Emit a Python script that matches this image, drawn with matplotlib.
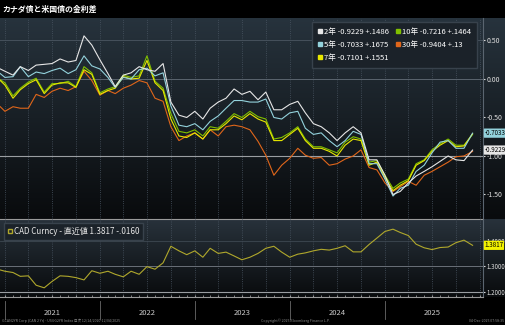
import numpy as np
import pandas as pd
import matplotlib
matplotlib.use("Agg")
import matplotlib.pyplot as plt
import matplotlib.dates as mdates
from matplotlib.lines import Line2D
from matplotlib.colors import LinearSegmentedColormap

plt.rcParams["font.family"] = ["Liberation Sans Narrow", "Noto Sans CJK JP", "DejaVu Sans"]

# first print, month starts, last print
dates = (pd.DatetimeIndex([pd.Timestamp("2020-12-14")])
         .append(pd.date_range("2021-01-01", "2025-11-01", freq="MS"))
         .append(pd.DatetimeIndex([pd.Timestamp("2025-12-04")])))

spread_2y = [0.13, 0.10, 0.05, 0.16, 0.11, 0.18, 0.19, 0.20, 0.26, 0.22, 0.24, 0.56, 0.44,
             0.25, 0.07, -0.10, 0.05, 0.08, 0.16, 0.12, 0.10, 0.20, -0.30, -0.47, -0.50,
             -0.42, -0.52, -0.38, -0.30, -0.25, -0.13, -0.20, -0.16, -0.27, -0.17, -0.40, -0.40,
             -0.33, -0.29, -0.44, -0.58, -0.62, -0.70, -0.80, -0.70, -0.62, -0.70, -1.05, -1.05,
             -1.25, -1.50, -1.46, -1.35, -1.26, -1.20, -1.14, -1.07, -1.00, -1.05, -1.06, -0.9229]
spread_5y = [0.07, 0.02, 0.03, 0.16, 0.03, 0.09, 0.07, 0.11, 0.14, 0.07, 0.12, 0.30, 0.17,
             0.13, 0.02, -0.11, 0.02, 0.00, 0.12, 0.14, 0.04, 0.08, -0.35, -0.60, -0.62,
             -0.58, -0.66, -0.55, -0.48, -0.38, -0.28, -0.28, -0.30, -0.30, -0.26, -0.50, -0.52,
             -0.44, -0.42, -0.64, -0.72, -0.70, -0.80, -0.88, -0.80, -0.68, -0.72, -1.10, -1.10,
             -1.30, -1.52, -1.42, -1.38, -1.20, -1.12, -0.96, -0.82, -0.80, -0.90, -0.90, -0.7033]
spread_7y = [-0.02, -0.08, -0.25, -0.14, -0.06, -0.01, -0.19, -0.08, -0.05, -0.05, -0.11, 0.12, 0.06,
             -0.20, -0.15, -0.12, 0.03, 0.00, 0.01, 0.24, -0.05, -0.15, -0.52, -0.74, -0.76,
             -0.70, -0.78, -0.66, -0.66, -0.58, -0.48, -0.53, -0.45, -0.52, -0.56, -0.80, -0.80,
             -0.72, -0.64, -0.80, -0.90, -0.90, -0.94, -1.00, -0.86, -0.78, -0.80, -1.12, -1.08,
             -1.28, -1.45, -1.38, -1.32, -1.12, -1.06, -0.94, -0.86, -0.80, -0.88, -0.87, -0.7101]
spread_10y = [-0.01, -0.05, -0.22, -0.12, -0.04, 0.01, -0.17, -0.06, -0.06, -0.03, -0.10, 0.16, 0.08,
              -0.18, -0.13, -0.10, 0.05, 0.02, 0.04, 0.30, -0.03, -0.12, -0.45, -0.68, -0.70,
              -0.66, -0.74, -0.62, -0.64, -0.55, -0.45, -0.50, -0.42, -0.49, -0.52, -0.78, -0.76,
              -0.70, -0.62, -0.78, -0.88, -0.88, -0.92, -0.96, -0.82, -0.75, -0.78, -1.08, -1.06,
              -1.25, -1.42, -1.35, -1.30, -1.10, -1.05, -0.92, -0.84, -0.78, -0.86, -0.86, -0.7216]
spread_30y = [-0.36, -0.42, -0.36, -0.38, -0.38, -0.20, -0.24, -0.16, -0.12, -0.15, -0.10, 0.10, -0.02,
              -0.21, -0.15, -0.19, -0.12, -0.08, -0.02, -0.05, -0.25, -0.29, -0.62, -0.80, -0.74,
              -0.70, -0.78, -0.66, -0.74, -0.62, -0.60, -0.62, -0.66, -0.81, -0.99, -1.25, -1.12,
              -1.03, -0.90, -0.99, -1.03, -1.02, -1.12, -1.10, -1.04, -1.00, -0.92, -1.15, -1.18,
              -1.35, -1.46, -1.40, -1.33, -1.38, -1.25, -1.20, -1.14, -1.08, -1.01, -1.00, -0.9404]
usdcad = [1.285, 1.280, 1.275, 1.260, 1.262, 1.225, 1.215, 1.240, 1.262, 1.260, 1.255, 1.246, 1.282,
          1.272, 1.280, 1.268, 1.258, 1.280, 1.268, 1.298, 1.288, 1.313, 1.378, 1.360, 1.345,
          1.360, 1.335, 1.370, 1.350, 1.355, 1.340, 1.325, 1.335, 1.350, 1.370, 1.378, 1.355,
          1.335, 1.347, 1.352, 1.360, 1.366, 1.363, 1.370, 1.380, 1.356, 1.356, 1.385, 1.410,
          1.436, 1.445, 1.432, 1.420, 1.386, 1.372, 1.365, 1.373, 1.375, 1.392, 1.402, 1.3817]

labels = ["2年 -0.9229 +.1486", "5年 -0.7033 +.1675", "7年 -0.7101 +.1551",
          "10年 -0.7216 +.1464", "30年 -0.9404 +.13"]
series = [spread_2y, spread_5y, spread_7y, spread_10y, spread_30y]
colors = ["#e6e6e6", "#93d2dc", "#e8e800", "#80c000", "#e0661a"]
cad_color = "#b0a82c"

fig = plt.figure(figsize=(5.05, 3.25), dpi=100, facecolor="black")

# gradient backgrounds
for rect, top in [([0, 0.3262, 1, 0.6185], "#27333d"), ([0, 0.0862, 1, 0.24], "#28323b")]:
    bg = fig.add_axes(rect, zorder=0)
    cm = LinearSegmentedColormap.from_list("bg", [top, "#090b0d"])
    bg.imshow(np.linspace(0, 1, 256).reshape(-1, 1), aspect="auto", cmap=cm, extent=[0, 1, 0, 1])
    bg.axis("off")

ax = fig.add_axes([0, 0.3262, 0.9564, 0.6185], zorder=2)
ax2 = fig.add_axes([0, 0.0862, 0.9564, 0.24], zorder=2)
xmin, xmax = pd.Timestamp("2020-12-13"), pd.Timestamp("2026-01-13")

for a in (ax, ax2):
    a.patch.set_visible(False)
    a.set_xlim(xmin, xmax)
    a.xaxis.set_major_locator(mdates.MonthLocator(bymonth=[1, 4, 7, 10]))
    a.xaxis.set_minor_locator(mdates.MonthLocator())
    a.grid(True, which="major", axis="x", color="#4a5663", linestyle=":", linewidth=0.6)
    a.tick_params(axis="x", which="both", direction="in", length=1.5, color="#9a9a9a",
                  labelbottom=False)
    a.yaxis.tick_right()
    a.tick_params(axis="y", colors="#e0e0e0", labelsize=5.0, length=1.5, pad=1.2, width=0.8)
    for s in ("top", "left"):
        a.spines[s].set_visible(False)
    a.spines["right"].set_color("#5a6570")
    a.spines["bottom"].set_color("#9a9a9a")
    a.spines["bottom"].set_linewidth(0.8)
ax2.tick_params(axis="y", labelsize=4.4, pad=0.8)

# upper panel
ax.set_ylim(-1.818, 0.792)
ax.set_yticks([0.5, 0.0, -0.5, -1.0, -1.5])
ax.set_yticklabels(["0.50", "0.00", "-0.50", "-1.00", "-1.50"])
ax.axhline(0.5, color="#46515c", lw=0.7)
ax.axhline(0.0, color="#5a646e", lw=0.7)
ax.axhline(-1.0, color="#9a9ea2", lw=0.8)
ax.tick_params(axis="x", which="both", length=0)
for i in [4, 3, 2, 1, 0]:
    ax.plot(dates, series[i], color=colors[i], lw=0.8)

handles = [Line2D([], [], marker="s", ls="none", ms=3, color=c) for c in colors]
leg = ax.legend(handles, labels, ncol=2, loc="upper right", bbox_to_anchor=(0.995, 1.0),
                fontsize=5.5, labelcolor="white", frameon=True, fancybox=False,
                facecolor="#1b2229", edgecolor="#38424c", framealpha=1,
                borderpad=0.8, labelspacing=0.65, handletextpad=0.15,
                columnspacing=0.9, handlelength=0.6)

for val, txt, c in [(-0.7033, "-0.7033", colors[1]), (-0.9229, "-0.9229", colors[0])]:
    ax.text(1.003, val, txt, transform=ax.get_yaxis_transform(), ha="left", va="center",
            fontsize=4.5, color="black", clip_on=False, zorder=5,
            bbox=dict(boxstyle="round,pad=0.1", fc=c, ec="none"))

# lower panel
ax2.set_ylim(1.179, 1.485)
ax2.set_yticks([1.4, 1.3, 1.2])
ax2.set_yticklabels(["1.4000", "1.3000", "1.2000"])
ax2.axhline(1.4, color="#3e4852", lw=0.6)
ax2.axhline(1.3, color="#6a7078", lw=0.7)
ax2.axhline(1.2, color="#9a9ea2", lw=0.8)
ax2.plot(dates, usdcad, color=cad_color, lw=0.8)
ax2.legend([Line2D([], [], marker="s", ls="none", ms=2.5, mfc="none", mec=cad_color)],
           ["CAD Curncy - 直近値 1.3817 -.0160"], loc="upper left", bbox_to_anchor=(0.0, 1.0),
           fontsize=5.8, labelcolor="#e8e8e8", frameon=True, fancybox=False,
           facecolor="#1b2229", edgecolor="#38424c", framealpha=1,
           borderpad=0.5, handletextpad=0.2, handlelength=0.5)
ax2.text(1.003, 1.3817, "1.3817", transform=ax2.get_yaxis_transform(), ha="left", va="center",
         fontsize=4.5, color="black", clip_on=False, zorder=5,
         bbox=dict(boxstyle="round,pad=0.1", fc="#f2f200", ec="none"))

# year labels and separators under the chart
xt = ax2.get_xaxis_transform()
for y in range(2021, 2026):
    ax2.text(pd.Timestamp(f"{y}-07-02"), -0.2, str(y), transform=xt, ha="center", va="center",
             fontsize=5.5, color="#c8c8c8")
    ax2.plot([pd.Timestamp(f"{y}-01-01")] * 2, [-0.05, -0.28], transform=xt,
             color="#6a6a6a", lw=0.6, clip_on=False)

fig.text(0.004, 1 - 9 / 325, "カナダ債と米国債の金利差", color="white", fontsize=5.7,
         fontweight="bold", ha="left", va="center", family=["Noto Sans CJK JP", "DejaVu Sans"])
fig.text(0.003, 0.012, "GCAN2YR Corp (CAN 2 Yr) - USGG2YR Index 日次 12/14/2020-12/04/2025",
         color="#8a8a8a", fontsize=2.6, ha="left", va="center")
fig.text(0.585, 0.012, "Copyright© 2025 Bloomberg Finance L.P.", color="#8a8a8a",
         fontsize=2.6, ha="center", va="center")
fig.text(0.998, 0.012, "04-Dec-2025 07:58:35", color="#8a8a8a", fontsize=2.6,
         ha="right", va="center")

fig.savefig("out.png", dpi=100, facecolor="black")
